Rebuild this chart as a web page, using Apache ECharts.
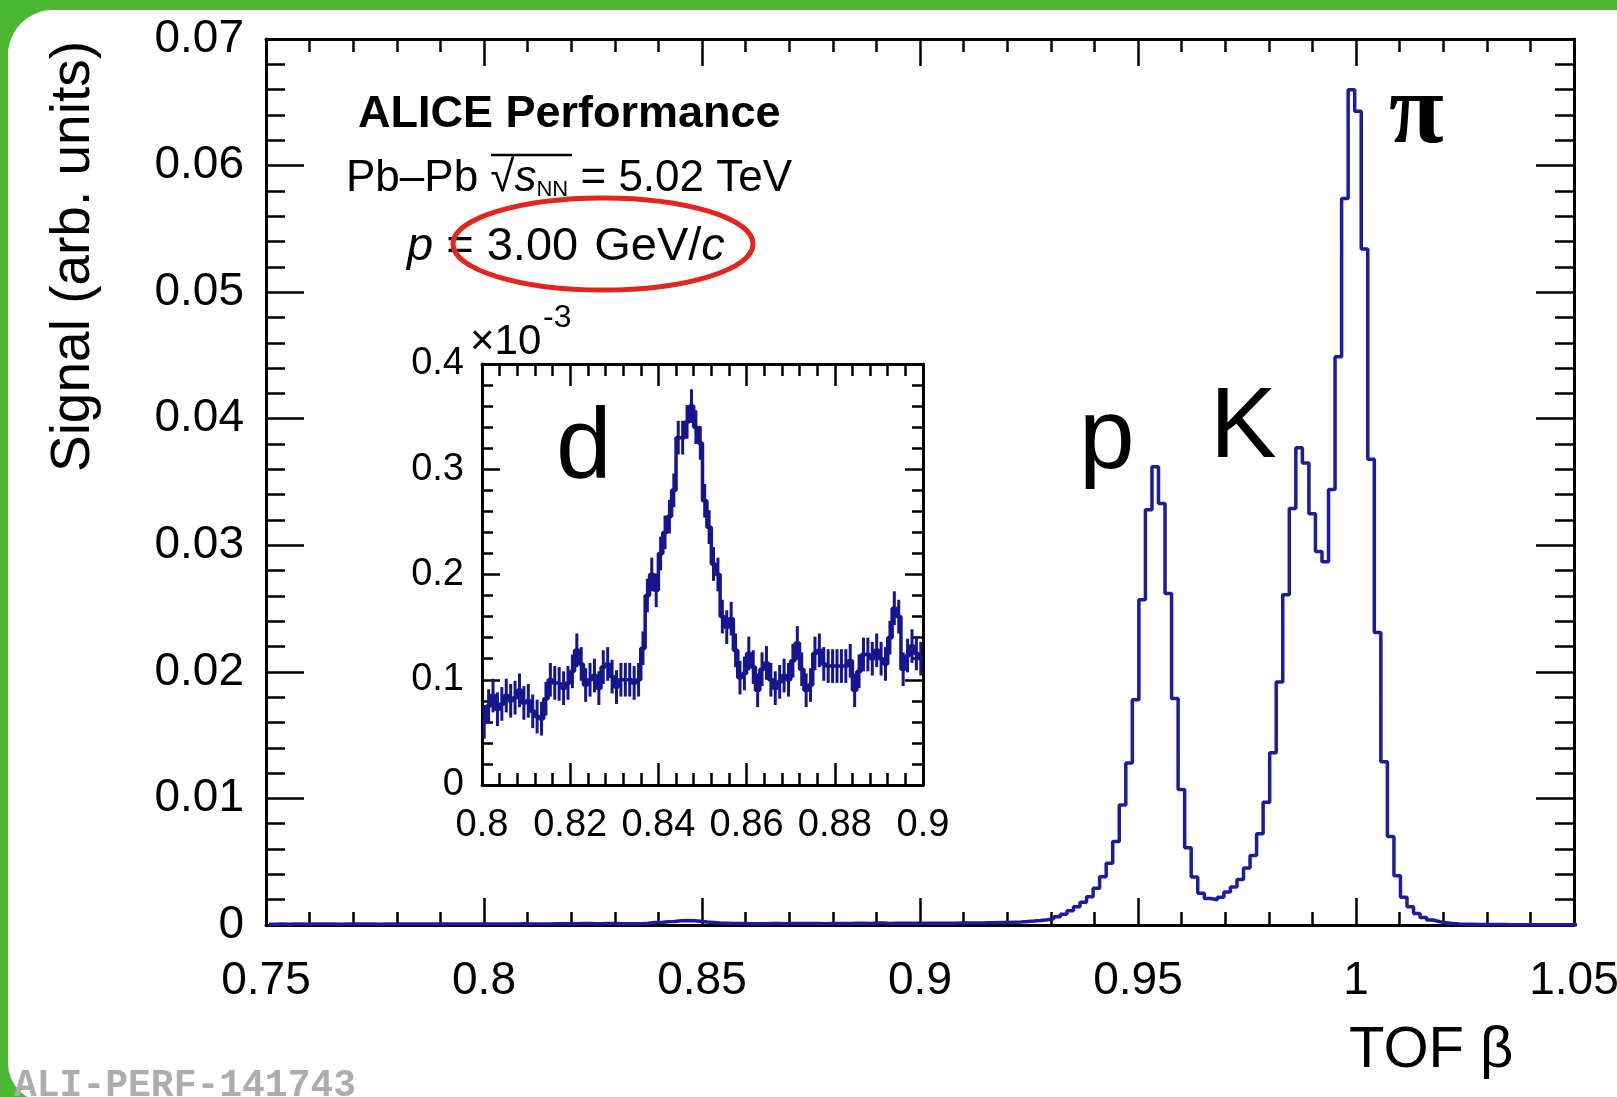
<!DOCTYPE html>
<html>
<head>
<meta charset="utf-8">
<title>TOF beta</title>
<script src="https://cdn.jsdelivr.net/npm/echarts@6/dist/echarts.min.js"></script>
<style>
  html, body { margin: 0; padding: 0; width: 1617px; height: 1097px; overflow: hidden; background: #4cb732; }
  #card { position: absolute; left: 8px; top: 10px; width: 1640px; height: 1093px; background: #fff; border-radius: 45px 0 0 40px; }
  #chartDom { position: absolute; left: 0; top: 0; width: 1617px; height: 1097px; }
</style>
</head>
<body>
<div id="card"></div>
<div id="chartDom"></div>
<script>
// main histogram: TOF beta, fixed-width bins
var binStart = 0.7507;
var binWidth = 0.0015;
var signal = [
  0.00006, 0.00007, 0.00006, 0.00007, 0.00007, 0.00006, 0.00007, 0.00008, 0.00007, 0.00007,
  0.00006, 0.00007, 0.00007, 0.00008, 0.00007, 0.00007, 0.00006, 0.00007, 0.00008, 0.00007,
  0.00007, 0.00008, 0.00007, 0.00007, 0.00008, 0.00007, 0.00008, 0.00008, 0.00007, 0.00008,
  0.00008, 0.00008, 0.00008, 0.00007, 0.00008, 0.00008, 0.00008, 0.00008, 0.00009, 0.00008,
  0.00007, 0.00007, 0.00008, 0.0001, 0.0001, 0.00009, 0.0001, 0.00012, 0.00011, 0.0001,
  0.0001, 0.00011, 0.00011, 0.0001, 0.0001, 0.0001, 0.0001, 0.00013, 0.00019, 0.0002,
  0.00025, 0.00028, 0.00033, 0.00035, 0.00034, 0.00029, 0.00024, 0.0002, 0.00015, 0.00013,
  0.00011, 0.00011, 0.0001, 0.0001, 0.0001, 0.0001, 0.00011, 0.00012, 0.0001, 0.00011,
  0.00012, 0.00011, 0.00011, 0.00011, 0.0001, 0.00012, 0.00012, 0.00012, 0.00012, 0.00013,
  0.00013, 0.00012, 0.00015, 0.00016, 0.00012, 0.00013, 0.00013, 0.00013, 0.00013, 0.00013,
  0.00013, 0.00013, 0.00014, 0.00014, 0.00014, 0.00015, 0.00015, 0.00016, 0.00016, 0.00017,
  0.00018, 0.00019, 0.0002, 0.00022, 0.00024, 0.00027, 0.00031, 0.00036, 0.00042, 0.0005,
  0.00066, 0.00084, 0.00113, 0.00145, 0.0018, 0.00224, 0.0029, 0.00382, 0.00487, 0.00659,
  0.00948, 0.0128, 0.0178, 0.0257, 0.0328, 0.0362, 0.0333, 0.0262, 0.0179, 0.0107,
  0.0061, 0.0038, 0.0025, 0.0021, 0.0020, 0.0022, 0.0026, 0.0030, 0.0036, 0.0045,
  0.0055, 0.0072, 0.0097, 0.0136, 0.0192, 0.0261, 0.0329, 0.0377, 0.0365, 0.0325,
  0.0295, 0.0287, 0.0344, 0.0449, 0.0574, 0.0660, 0.0643, 0.0534, 0.0368, 0.0231,
  0.0129, 0.0070, 0.0039, 0.0022, 0.00145, 0.0009, 0.0006, 0.0004, 0.00026, 0.00017,
  0.00011, 0.00008, 0.00006, 0.00005, 0.00004, 0.00004, 0.00003, 0.00003, 0.00003, 0.00002,
  0.00002, 0.00002, 0.00002, 0.00002, 0.00002, 0.00002, 0.00001, 0.00001, 0.00001, 0.00001
];

// inset: deuteron region, values in units of 1e-3
var insetStart = 0.8;
var insetWidth = 0.001;
var insetSignal = [
  0.06, 0.075, 0.085, 0.072, 0.077, 0.085, 0.08, 0.083, 0.09, 0.078,
  0.08, 0.07, 0.065, 0.063, 0.082, 0.1, 0.097, 0.096, 0.092, 0.097,
  0.108, 0.128, 0.115, 0.095, 0.1, 0.104, 0.092, 0.112, 0.115, 0.103,
  0.093, 0.1, 0.1, 0.1, 0.097, 0.1, 0.13, 0.18, 0.2, 0.185,
  0.22, 0.24, 0.255, 0.28, 0.33, 0.33, 0.345, 0.36, 0.34, 0.325,
  0.27, 0.245, 0.21, 0.2, 0.16, 0.15, 0.158, 0.128, 0.102, 0.106,
  0.125, 0.112, 0.09, 0.11, 0.116, 0.1, 0.092, 0.098, 0.104, 0.1,
  0.118, 0.135, 0.11, 0.09, 0.095, 0.125, 0.128, 0.115, 0.113, 0.113,
  0.113, 0.113, 0.113, 0.118, 0.09, 0.108, 0.124, 0.124, 0.12, 0.128,
  0.12, 0.115, 0.14, 0.168, 0.16, 0.11, 0.123, 0.132, 0.125, 0.12
];
var insetErr = 0.016;

// axis ranges
var mainX = { min: 0.75, max: 1.05, interval: 0.05 };
var mainY = { min: 0, max: 0.07, interval: 0.01 };
var insetX = { min: 0.8, max: 0.9, interval: 0.02 };
var insetY = { min: 0, max: 0.4, interval: 0.1 };

var FONT = "'Liberation Sans', Arial, Helvetica, sans-serif";
var LINE_BLUE = '#1c1ca0';
var INSET_BLUE = '#15158e';

function stepData(start, width, values) {
    var out = values.map(function (v, i) { return [start + i * width, v]; });
    out.push([start + values.length * width, values[values.length - 1]]);
    return out;
}

function axis(range, o) {
    var label = {
        show: !!o.label,
        margin: o.margin,
        fontSize: o.fontSize,
        fontFamily: FONT,
        color: '#000',
        formatter: o.label,
        showMinLabel: true,
        showMaxLabel: true
    };
    if (o.position === 'bottom') {
        label.alignMinLabel = 'center';
        label.alignMaxLabel = 'center';
    }
    return {
        type: 'value',
        gridIndex: o.grid,
        position: o.position,
        min: range.min,
        max: range.max,
        interval: range.interval,
        axisLine: { show: true, onZero: false, lineStyle: { color: '#000', width: 3 } },
        axisTick: { show: true, inside: true, length: o.tick, lineStyle: { color: '#000', width: 2.5 } },
        minorTick: { show: true, splitNumber: 5, length: o.minor, lineStyle: { color: '#000', width: 2.5 } },
        splitLine: { show: false },
        minorSplitLine: { show: false },
        axisLabel: label
    };
}

function fmtX(v) { return String(+v.toFixed(2)); }
function fmtMainY(v) { return v === 0 ? '0' : v.toFixed(2); }
function fmtInsetY(v) { return v === 0 ? '0' : v.toFixed(1); }

function txt(x, y, text, size, extra, rotation) {
    var style = {
        text: text, fontSize: size, fontFamily: FONT, fill: '#000',
        align: 'left', verticalAlign: 'middle', textAlign: 'left', textVerticalAlign: 'middle'
    };
    for (var k in (extra || {})) style[k] = extra[k];
    return { type: 'text', x: x, y: y, rotation: rotation || 0, z: 100, style: style };
}

var chartDom = echarts.init(document.getElementById('chartDom'));
chartDom.setOption({
    animation: false,
    grid: [
        { left: 266, top: 39, width: 1308, height: 886, containLabel: false, outerBoundsMode: 'none' },
        { left: 482, top: 364, width: 441, height: 421, containLabel: false, outerBoundsMode: 'none',
          show: true, backgroundColor: '#fff', borderWidth: 0 }
    ],
    xAxis: [
        axis(mainX, { grid: 0, position: 'bottom', tick: 27, minor: 13, margin: 33, fontSize: 46, label: fmtX }),
        axis(mainX, { grid: 0, position: 'top', tick: 27, minor: 13 }),
        axis(insetX, { grid: 1, position: 'bottom', tick: 22, minor: 12, margin: 22, fontSize: 38, label: fmtX }),
        axis(insetX, { grid: 1, position: 'top', tick: 22, minor: 12 })
    ],
    yAxis: [
        axis(mainY, { grid: 0, position: 'left', tick: 38, minor: 19, margin: 22, fontSize: 46, label: fmtMainY }),
        axis(mainY, { grid: 0, position: 'right', tick: 38, minor: 19 }),
        axis(insetY, { grid: 1, position: 'left', tick: 18, minor: 11, margin: 18, fontSize: 38, label: fmtInsetY }),
        axis(insetY, { grid: 1, position: 'right', tick: 18, minor: 11 })
    ],
    series: [
        {
            type: 'line', xAxisIndex: 0, yAxisIndex: 0,
            step: 'end', showSymbol: false, symbol: 'none', clip: true, z: 5,
            lineStyle: { color: LINE_BLUE, width: 3.5 },
            data: stepData(binStart, binWidth, signal)
        },
        {
            type: 'line', xAxisIndex: 2, yAxisIndex: 2,
            step: 'end', showSymbol: false, symbol: 'none', clip: true, z: 5,
            lineStyle: { color: INSET_BLUE, width: 3.5 },
            data: stepData(insetStart, insetWidth, insetSignal)
        },
        {
            type: 'custom', xAxisIndex: 2, yAxisIndex: 2, silent: true, clip: true, z: 5,
            encode: { x: 0, y: [1, 2] },
            data: insetSignal.map(function (v, i) {
                return [insetStart + (i + 0.5) * insetWidth, v - insetErr, v + insetErr];
            }),
            renderItem: function (params, api) {
                var lo = api.coord([api.value(0), api.value(1)]);
                var hi = api.coord([api.value(0), api.value(2)]);
                return {
                    type: 'line',
                    shape: { x1: lo[0], y1: lo[1], x2: hi[0], y2: hi[1] },
                    style: { stroke: INSET_BLUE, lineWidth: 3 }
                };
            }
        }
    ],
    graphic: [
        txt(74, 41, 'Signal (arb. units)', 55, { align: 'right', textAlign: 'right' }, Math.PI / 2),
        txt(1349, 1051, 'TOF \u03b2', 58),
        txt(358, 115, 'ALICE Performance', 45, { fontWeight: 'bold' }),
        txt(346, 179, '{n|Pb\u2013Pb \u221a}{it|s}{sub|NN}{n| = 5.02 TeV}', 44, {
            rich: {
                n: { fontSize: 44, fontFamily: FONT, fill: '#000' },
                it: { fontSize: 44, fontFamily: FONT, fontStyle: 'italic', fill: '#000' },
                sub: { fontSize: 22, fontFamily: FONT, fill: '#000', lineHeight: 6, verticalAlign: 'bottom' }
            }
        }),
        txt(407, 247, '{it|p}{n| = 3.00 }{g|GeV/}{it|c}', 47, {
            rich: {
                n: { fontSize: 47, fontFamily: FONT, fill: '#000' },
                g: { fontSize: 47, fontFamily: FONT, fill: '#000', padding: [0, 0, 0, 3] },
                it: { fontSize: 47, fontFamily: FONT, fontStyle: 'italic', fill: '#000' }
            }
        }),
        txt(1079, 440, 'p', 100),
        txt(1210, 429, 'K', 100),
        txt(1389, 116, '\u03c0', 100, { fontFamily: "'Liberation Serif', 'DejaVu Serif', serif", fontWeight: 'bold' }),
        txt(556, 450, 'd', 100),
        txt(470, 342, '\u00d710', 42),
        txt(543, 318, '-3', 32),
        txt(14, 1086, 'ALI-PERF-141743', 38, { fontFamily: "'Liberation Mono', 'DejaVu Sans Mono', monospace", fontWeight: 'bold', fill: '#adadad' }),
        {
            type: 'line', z: 100,
            shape: { x1: 491, y1: 155, x2: 572, y2: 155 },
            style: { stroke: '#000', lineWidth: 2.5 }
        },
        {
            type: 'ellipse', z: 101,
            shape: { cx: 603, cy: 244, rx: 150, ry: 46 },
            style: { fill: 'none', stroke: '#e4251d', lineWidth: 5 }
        }
    ]
});
</script>
</body>
</html>
